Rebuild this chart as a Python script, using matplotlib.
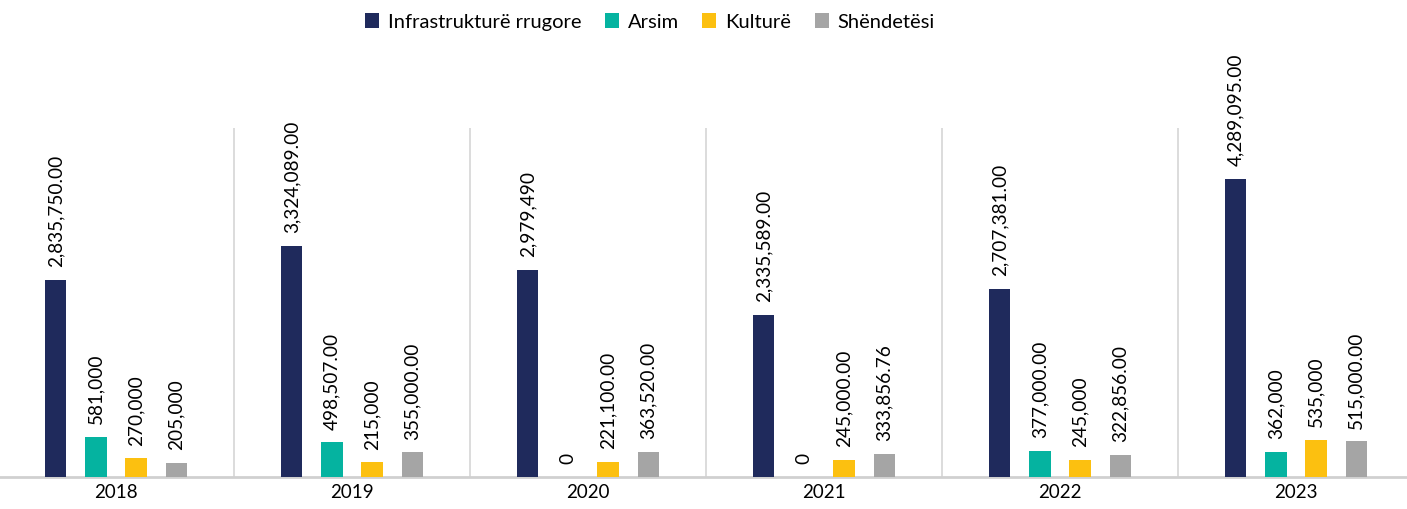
import matplotlib
matplotlib.use("Agg")
import matplotlib.pyplot as plt
import numpy as np

years = ["2018", "2019", "2020", "2021", "2022", "2023"]
series = ["Infrastrukturë rrugore", "Arsim", "Kulturë", "Shëndetësi"]
infra = [2835750, 3324089, 2979490, 2335589, 2707381, 4289095]
arsim = [581000, 498507, 0, 0, 377000, 362000]
kultura = [270000, 215000, 221100, 245000, 245000, 535000]
shendetesi = [205000, 355000, 363520, 333856.76, 322856, 515000]
infra_lbl = ["2,835,750.00", "3,324,089.00", "2,979,490", "2,335,589.00", "2,707,381.00", "4,289,095.00"]
arsim_lbl = ["581,000", "498,507.00", "0", "0", "377,000.00", "362,000"]
kultura_lbl = ["270,000", "215,000", "221,100.00", "245,000.00", "245,000", "535,000"]
shendetesi_lbl = ["205,000", "355,000.00", "363,520.00", "333,856.76", "322,856.00", "515,000.00"]

values = [infra, arsim, kultura, shendetesi]
labels = [infra_lbl, arsim_lbl, kultura_lbl, shendetesi_lbl]
colors = ["#1F2A5C", "#05B3A0", "#FCC010", "#A5A5A5"]

plt.rcParams['font.family'] = ['Lato', 'DejaVu Sans']

fig = plt.figure(figsize=(14.07, 5.09), dpi=100)
W, H = 1407, 509
ax = fig.add_axes([-2 / W, 1 - 477 / H, 1416 / W, (477 - 128) / H])

x = np.arange(len(years))
step = 0.17
bw = 0.09
for i, (vals, lbls, c, name) in enumerate(zip(values, labels, colors, series)):
    pos = x + (i - 1.5) * step
    ax.bar(pos, vals, width=bw, color=c, label=name, zorder=3)
    for p, v, l in zip(pos, vals, lbls):
        ax.annotate(l, (p, v), xytext=(0, 9), textcoords="offset points",
                    rotation=90, ha="center", va="bottom", fontsize=13.7,
                    color="#000000", annotation_clip=False)

ax.set_xlim(-0.5, len(years) - 0.5)
ax.set_ylim(0, 5020000)
for b in np.arange(0.5, len(years) - 0.5, 1):
    ax.axvline(b, color="#D9D9D9", lw=1.3, zorder=1)
for s in ["top", "right", "left"]:
    ax.spines[s].set_visible(False)
ax.spines["bottom"].set_color("#D0D0D0")
ax.spines["bottom"].set_linewidth(2)
ax.set_yticks([])
ax.set_xticks(x)
ax.set_xticklabels(years, fontsize=13.5)
ax.tick_params(axis="x", length=0, pad=5)

fig.legend(loc="center", bbox_to_anchor=(650 / W, 1 - 22 / H), ncol=4, frameon=False,
           fontsize=14.5, handlelength=0.7, handleheight=0.7, handletextpad=0.45,
           columnspacing=1.15)

fig.savefig("out.png", dpi=100)
